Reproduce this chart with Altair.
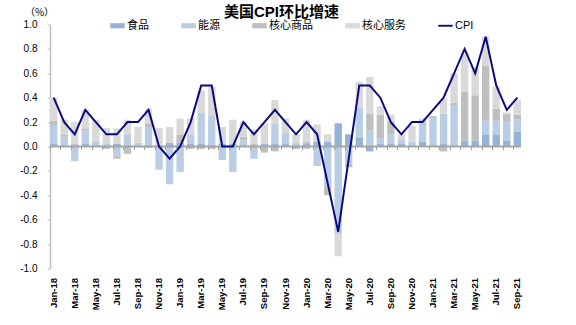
import altair as alt
import pandas as pd

months = [
    "Jan-18", "Feb-18", "Mar-18", "Apr-18", "May-18", "Jun-18", "Jul-18", "Aug-18", "Sep-18", "Oct-18", "Nov-18", "Dec-18",
    "Jan-19", "Feb-19", "Mar-19", "Apr-19", "May-19", "Jun-19", "Jul-19", "Aug-19", "Sep-19", "Oct-19", "Nov-19", "Dec-19",
    "Jan-20", "Feb-20", "Mar-20", "Apr-20", "May-20", "Jun-20", "Jul-20", "Aug-20", "Sep-20", "Oct-20", "Nov-20", "Dec-20",
    "Jan-21", "Feb-21", "Mar-21", "Apr-21", "May-21", "Jun-21", "Jul-21", "Aug-21", "Sep-21",
]
food = [0.02, 0.01, 0.01, 0.02, 0.01, 0.01, 0.02, 0.00, 0.00, -0.01, 0.01, 0.03,
        0.03, 0.02, 0.02, 0.01, 0.02, 0.02, 0.00, 0.00, 0.02, 0.02, 0.02, 0.01,
        0.02, 0.04, 0.04, 0.19, 0.10, 0.07, -0.04, 0.02, 0.02, 0.02, 0.00, 0.04,
        0.01, 0.02, 0.01, 0.05, 0.05, 0.10, 0.10, 0.05, 0.12]
energy = [0.15, 0.07, -0.12, 0.11, 0.04, 0.01, -0.08, 0.10, 0.03, 0.16, -0.19, -0.31,
          -0.21, 0.08, 0.26, 0.24, -0.11, -0.21, 0.05, -0.10, -0.01, 0.17, 0.09, 0.02,
          -0.02, -0.16, -0.34, -0.72, -0.14, 0.25, 0.13, 0.05, 0.08, 0.04, 0.04, 0.18,
          0.22, 0.25, 0.33, 0.00, 0.00, 0.11, 0.11, 0.15, 0.10]
core_goods = [0.04, 0.02, 0.01, 0.02, 0.00, -0.02, -0.02, -0.06, 0.00, 0.03, 0.00, 0.00,
              0.07, -0.02, -0.02, -0.02, 0.00, 0.00, 0.03, 0.02, -0.04, -0.04, 0.00, -0.02,
              0.02, 0.00, -0.06, 0.00, -0.03, 0.00, 0.14, 0.19, 0.10, 0.00, 0.00, 0.00,
              0.02, -0.04, 0.02, 0.40, 0.37, 0.45, 0.10, 0.07, 0.04]
core_services = [0.19, 0.12, 0.18, 0.15, 0.17, 0.13, 0.13, 0.12, 0.13, 0.12, 0.14, 0.13,
                 0.13, 0.13, 0.18, 0.24, 0.14, 0.20, 0.12, 0.12, 0.17, 0.19, 0.12, 0.07,
                 0.18, 0.14, 0.06, -0.18, 0.00, 0.21, 0.30, 0.07, 0.06, 0.04, 0.13, 0.01,
                 0.00, 0.12, 0.24, 0.32, 0.23, 0.24, 0.18, 0.01, 0.12]
cpi = [0.4, 0.2, 0.1, 0.3, 0.2, 0.1, 0.1, 0.2, 0.2, 0.3, 0.0, -0.1,
       0.0, 0.2, 0.5, 0.5, 0.0, 0.0, 0.2, 0.1, 0.2, 0.3, 0.2, 0.1,
       0.2, 0.1, -0.3, -0.7, -0.1, 0.5, 0.5, 0.4, 0.2, 0.1, 0.2, 0.2,
       0.3, 0.4, 0.6, 0.8, 0.6, 0.9, 0.5, 0.3, 0.4]

series_names = ["食品", "能源", "核心商品", "核心服务"]
legend_names = series_names + ["CPI"]
colors = ["#95B3D7", "#B9CDE5", "#BFBFBF", "#D9D9D9", "#0A0A7E"]
y_ticks = [-1.0, -0.8, -0.6, -0.4, -0.2, 0.0, 0.2, 0.4, 0.6, 0.8, 1.0]
label_months = months[::2]

rows = []
for k, (name, vals) in enumerate(zip(series_names, [food, energy, core_goods, core_services])):
    for m, v in zip(months, vals):
        rows.append({"month": m, "item": name, "value": v, "order": k})
bars_df = pd.DataFrame(rows)
line_df = pd.DataFrame({"month": months, "cpi": cpi})
zero_df = pd.DataFrame({"zero": [0.0]})

FONT = "Liberation Sans, Arial, Noto Sans CJK SC"
x_scale = alt.Scale(domain=months, paddingInner=0.3, paddingOuter=0)
y_scale = alt.Scale(domain=[-1, 1], nice=False, zero=False)

y_axis = alt.Axis(
    values=y_ticks, labelExpr="replace(format(datum.value, '.1f'), '\u2212', '-')",
    grid=False, tickSize=3, tickColor="#BFBFBF", domainColor="#BFBFBF", domainWidth=1.5,
    labelPadding=10, labelFontSize=10, labelFont=FONT, labelColor="#000000",
    title="（%）", titleAngle=0, titleAlign="center", titleBaseline="middle",
    titleX=-11, titleY=-12, titleFontSize=10, titleFontWeight="normal",
    titleFont="Noto Sans CJK SC", titleColor="#000000")

symbol_expr = ("datum.value === 'CPI' ? 'M-1,-0.13H1V0.13H-1Z' : 'M-1,-0.36H1V0.36H-1Z'")

bars = alt.Chart(bars_df).mark_bar().encode(
    x=alt.X("month:N", scale=x_scale, axis=alt.Axis(
        orient="bottom", values=label_months, labelAngle=-90, domain=False, ticks=False,
        labelPadding=9, labelFontSize=9.5, labelFontWeight="bold", labelFont=FONT,
        labelColor="#000000", title=None)),
    y=alt.Y("value:Q", stack="zero", scale=y_scale, axis=y_axis),
    color=alt.Color("item:N", scale=alt.Scale(domain=legend_names, range=colors), legend=alt.Legend(
        orient="none", legendX=60, legendY=-6.5, direction="horizontal", columns=5, title=None,
        symbolSize=210, symbolStrokeWidth=0, labelOffset=2, columnPadding=32,
        labelFontSize=11, labelFont=FONT, labelColor="#000000",
        symbolType=alt.ExprRef(expr=symbol_expr))),
    order=alt.Order("order:Q"),
)

zero_line = alt.Chart(zero_df).mark_rule(color="#A6A6A6", strokeWidth=2).encode(
    y=alt.Y("zero:Q", scale=y_scale, axis=y_axis))

line = alt.Chart(line_df).mark_line(color="#0A0A7E", strokeWidth=2).encode(
    x=alt.X("month:N", scale=x_scale, axis=alt.Axis(
        orient="bottom", offset=-122, labels=False, domain=False, ticks=True,
        tickSize=3, tickColor="#A0A0A0", bandPosition=0, title=None, zindex=1)),
    y=alt.Y("cpi:Q", scale=y_scale, axis=y_axis),
)

chart = alt.layer(bars, zero_line, line).resolve_axis(x="independent").properties(
    width=471, height=244,
    padding={"left": 50, "top": 24.5, "right": 55, "bottom": 56.5},
    autosize=alt.AutoSizeParams(type="none"),
    title=alt.TitleParams("美国CPI环比增速", fontSize=15, fontWeight="bold", font=FONT,
                          color="#000000", anchor="middle", dx=-4, dy=14, offset=2),
).configure_view(stroke=None)

chart.save("out.html", embed_options={"renderer": "svg", "actions": False})
